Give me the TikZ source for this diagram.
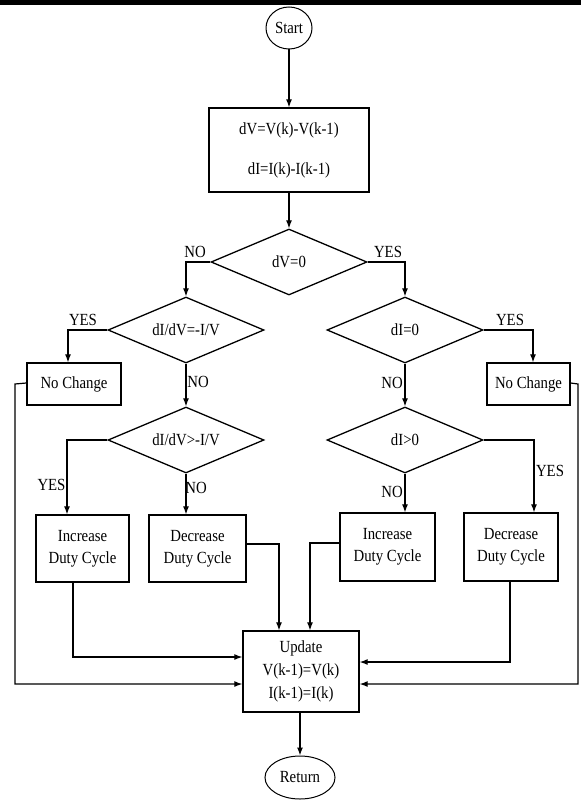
\documentclass[tikz,border=0pt]{standalone}
\usepackage{fontspec}
\setmainfont{Liberation Serif}[FakeStretch=0.87]
\usetikzlibrary{shapes.geometric,arrows.meta,calc}
\begin{document}
\begin{tikzpicture}[x=1pt,y=-1pt,
  every node/.style={font=\fontsize{17}{20}\selectfont, inner sep=0pt},
  box/.style={draw, rectangle, line width=1.3pt, align=center},
  decision/.style={draw, diamond, aspect=2.36, line width=1.3pt, minimum width=156pt, minimum height=66pt},
  terminal/.style={draw, ellipse, line width=1pt},
  arr/.style={line width=1.2pt, -{Latex[length=8pt,width=6pt]}},
  lab/.style={font=\fontsize{17}{20}\selectfont}
]
\useasboundingbox (0,0) rectangle (581,800);
\fill (0,0) rectangle (581,5);

\node[terminal, minimum width=46pt, minimum height=42pt] (start) at (289,28) {Start};
\node[box, minimum width=160pt, minimum height=84pt] (calc) at (289,150) {dV=V(k)-V(k-1)\\[20pt]dI=I(k)-I(k-1)};
\node[decision] (d0) at (289,262) {dV=0};
\node[decision] (d1) at (186,330) {dI/dV=-I/V};
\node[decision] (d2) at (186,440) {dI/dV>-I/V};
\node[decision] (d3) at (405,330) {dI=0};
\node[decision] (d4) at (405,440) {dI>0};
\node[box, minimum width=94pt, minimum height=42pt] (nc1) at (74,384) {No Change};
\node[box, minimum width=83pt, minimum height=42pt] (nc2) at (528.5,384) {No Change};
\node[box, minimum width=93pt, minimum height=67pt, font=\fontsize{17}{22}\selectfont] (inc1) at (82.5,548.5) {Increase\\Duty Cycle};
\node[box, minimum width=97pt, minimum height=67pt, font=\fontsize{17}{22}\selectfont] (dec1) at (197.5,548.5) {Decrease\\Duty Cycle};
\node[box, minimum width=95pt, minimum height=68pt, font=\fontsize{17}{22}\selectfont] (inc2) at (387.5,547) {Increase\\Duty Cycle};
\node[box, minimum width=94pt, minimum height=68pt, font=\fontsize{17}{22}\selectfont] (dec2) at (511,547) {Decrease\\Duty Cycle};
\node[box, minimum width=116pt, minimum height=81pt, font=\fontsize{17}{23}\selectfont] (upd) at (301,671.5) {Update\\V(k-1)=V(k)\\I(k-1)=I(k)};
\node[terminal, minimum width=70pt, minimum height=43pt] (ret) at (300,777.5) {Return};

% labels
\node[lab] (l0n) at (195,252) {NO};
\node[lab] (l0y) at (388,252) {YES};
\node[lab] (l1y) at (83,320) {YES};
\node[lab] (l1n) at (198,382) {NO};
\node[lab] (l2y) at (51.5,485) {YES};
\node[lab] (l2n) at (196,488) {NO};
\node[lab] (l3y) at (510,320) {YES};
\node[lab] (l3n) at (392,383) {NO};
\node[lab] (l4y) at (550,471) {YES};
\node[lab] (l4n) at (392,492) {NO};

% connectors
\draw[arr] (start.south) -- (calc.north);
\draw[arr] (calc.south) -- (d0.north);
\draw[arr] (d0.west) -| (d1.north);
\draw[arr] (d0.east) -| (d3.north);
\draw[arr] (d1.west) -| ([xshift=-6pt]nc1.north);
\draw[arr] (d1.south) -- (d2.north);
\draw[arr] (d2.west) -| ([xshift=-15.5pt]inc1.north);
\draw[arr] (d2.south) -- (d2.south |- dec1.north);
\draw[arr] (d3.east) -| ([xshift=4.5pt]nc2.north);
\draw[arr] (d3.south) -- (d4.north);
\draw[arr] (d4.east) -| ([xshift=23pt]dec2.north);
\draw[arr] (d4.south) -- (d4.south |- inc2.north);

\coordinate (cL) at (15,383);
\coordinate (cR) at (578,383);
\draw[arr] ([yshift=1pt]nc1.west) -- (cL |- nc1.west) |- ([yshift=-12.5pt]upd.west);
\draw[arr] ([yshift=1pt]nc2.east) -- (cR |- nc2.east) |- ([yshift=-12.5pt]upd.east);
\draw[arr] ([yshift=4.5pt]dec1.east) -| ([xshift=-22pt]upd.north);
\draw[arr] ([yshift=4pt]inc2.west) -| ([xshift=9pt]upd.north);
\draw[arr] ([xshift=-9.5pt]inc1.south) |- ([yshift=14.5pt]upd.west);
\draw[arr] ([xshift=-1pt]dec2.south) |- ([yshift=9.5pt]upd.east);
\draw[arr] ([xshift=-1pt]upd.south) -- (ret.north);
\end{tikzpicture}
\end{document}
